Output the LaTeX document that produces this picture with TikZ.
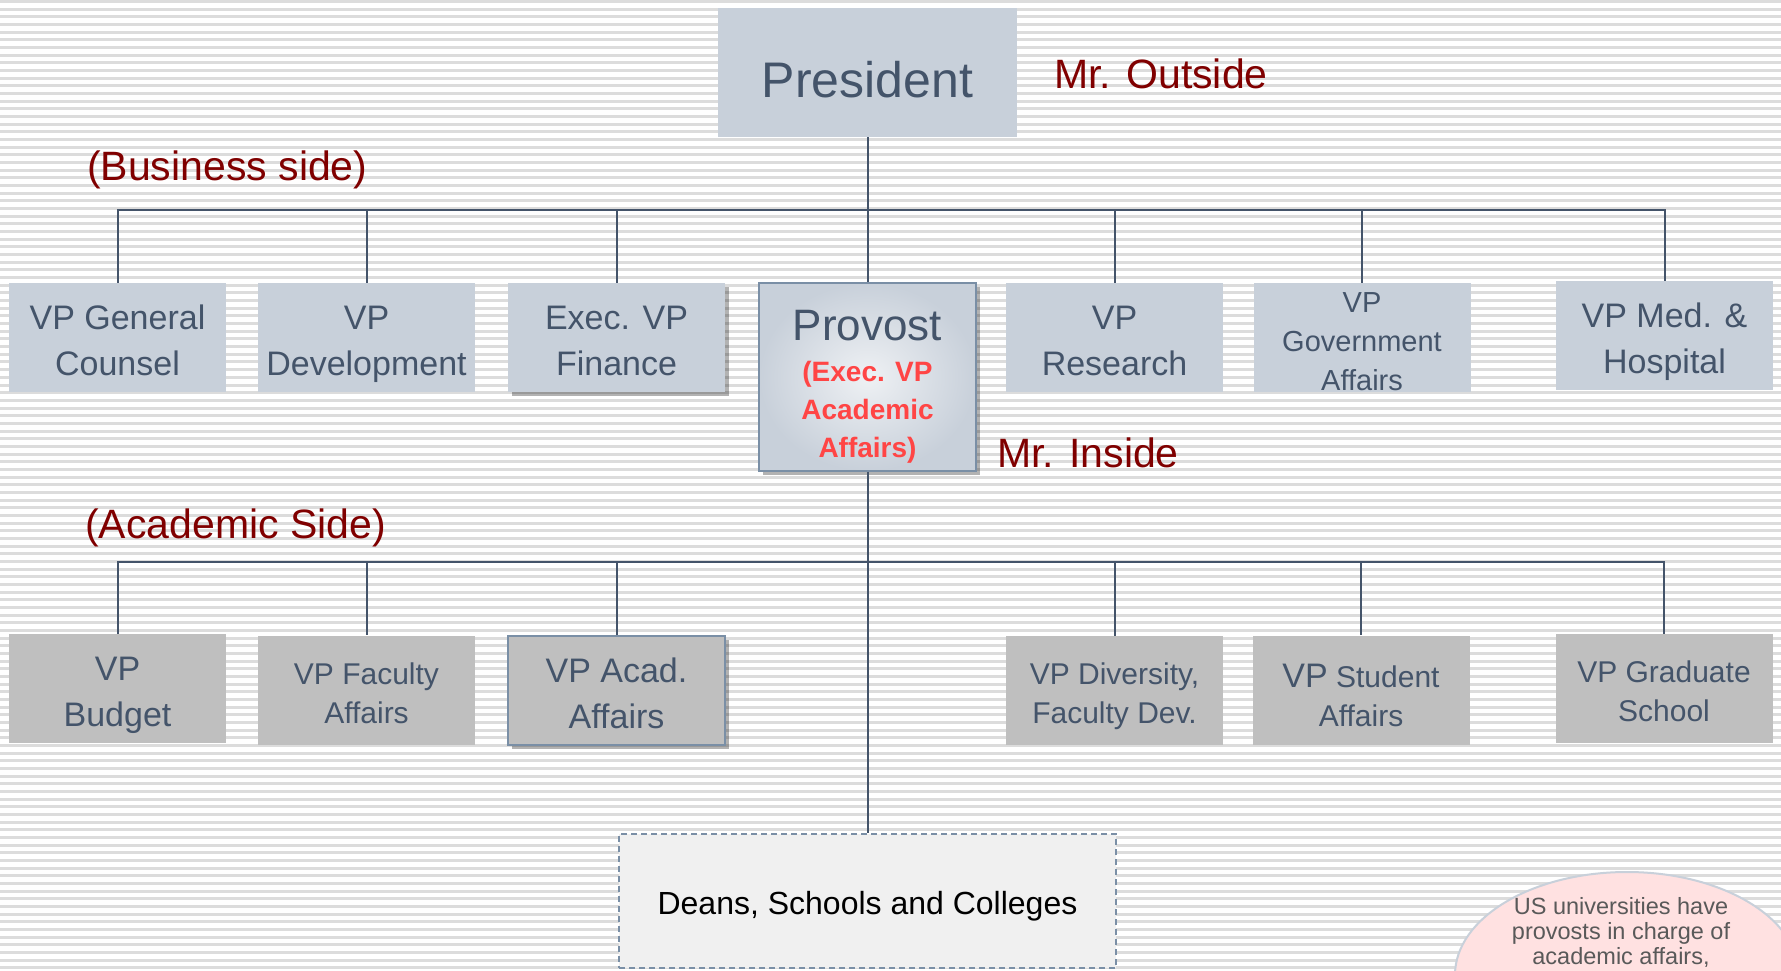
\documentclass[tikz,border=0pt]{standalone}
\usepackage{fontspec}
\setmainfont{Liberation Sans}
\usepackage{xcolor}
\usetikzlibrary{shapes.geometric,shadows}
\definecolor{boxtext}{HTML}{44546A}
\definecolor{topfill}{HTML}{C8D0DA}
\definecolor{lowfill}{HTML}{BFBFBF}
\definecolor{edgeblue}{HTML}{7A8FA6}
\definecolor{sidered}{HTML}{800000}
\definecolor{provred}{HTML}{FF4545}
\definecolor{stripe}{HTML}{DCDCDC}
\definecolor{notefill}{HTML}{FFE1E1}
\definecolor{notetext}{HTML}{595959}
\newcommand\fs[2]{\fontsize{#1}{#2}\selectfont}

\tikzset{
  unit/.style={fill=topfill, text=boxtext, align=center, inner sep=0pt,
    minimum width=217pt, minimum height=109pt, font=\fs{34}{46},
    text height=76pt, text depth=0pt},
  lowunit/.style={unit, fill=lowfill},
  smalltxt/.style={font=\fs{30}{39}, text height=66pt},
  lifted/.style={drop shadow={shadow xshift=4pt, shadow yshift=-4pt,
    fill=black, opacity=0.3}},
  framed/.style={draw=edgeblue, line width=1.5pt},
  conn/.style={draw=boxtext, line width=2pt},
  side/.style={text=sidered, font=\fs{41}{48}, anchor=base west, inner sep=0pt},
}

\begin{document}
\begin{tikzpicture}[x=1pt,y=-1pt]
        \useasboundingbox (0,0) rectangle (1781,970);
        \clip (0,0) rectangle (1781,970);
        \fill[white] (0,0) rectangle (1781,970);
        \foreach \i in {0,...,126}
          \fill[stripe] (0,{\i*7.67}) rectangle (1781,{\i*7.67+3});

        \coordinate (P) at (867.5, 72.5);
        \coordinate (Tbus) at (867.5, 210);
        \coordinate (Lbus) at (867.5, 562);

        \coordinate (GC) at (117.5, 337.5);
        \coordinate (D) at (366.5, 337.5);
        \coordinate (F) at (616.5, 337.5);
        \coordinate (V) at (867.5, 377);
        \coordinate (R) at (1114.5, 337.5);
        \coordinate (G) at (1362, 337.5);
        \coordinate (M) at (1664.5, 335.5);

        \coordinate (B) at (117.5, 688.5);
        \coordinate (FA) at (366.5, 690);
        \coordinate (A) at (616.5, 690.5);
        \coordinate (DF) at (1114.5, 690.5);
        \coordinate (S) at (1361, 690);
        \coordinate (GS) at (1664, 688.5);

        \coordinate (DSC) at (867.5, 901);

        \node[unit, minimum width=299pt, minimum height=129pt, font=\fs{50}{60},
          text height=49pt] (Pres) at (P) {President};

        \node[unit] (GenC) at (GC) {VP General\\Counsel};
        \node[unit] (Dev) at (D) {VP\\Development};
        \node[unit, lifted] (Fin) at (F) {Exec. VP\\Finance};
        \node[unit, framed, lifted, minimum height=188pt, text height=0pt,
          shading=radial, inner color=white!70!topfill, outer color=topfill]
          (Prov) at (V) {};
        \node[align=center, inner sep=0pt, text=provred, font=\fs{28}{38}\bfseries]
          (ProvT) at (867.5, 387) {{\fs{44}{50}\mdseries\color{boxtext}Provost}\\[2.5pt]
          (Exec. VP\\Academic\\Affairs)};
        \node[unit] (Res) at (R) {VP\\Research};
        \node[unit, font=\fs{29}{39}, text height=106pt] (Gov) at (G) {VP\\Government\\Affairs};
        \node[unit] (Med) at (M) {VP Med. \&\\Hospital};

        \node[lowunit] (Bud) at (B) {VP\\Budget};
        \node[lowunit, smalltxt] (Fac) at (FA) {VP Faculty\\Affairs};
        \node[lowunit, framed, lifted] (Acad) at (A) {VP Acad.\\Affairs};
        \node[lowunit, smalltxt] (Div) at (DF) {VP Diversity,\\Faculty Dev.};
        \node[lowunit, smalltxt, text height=72pt] (Stu) at (S) {{\fs{34}{44}VP} Student\\Affairs};
        \node[lowunit, smalltxt] (Grad) at (GS) {VP Graduate\\School};

        \node[draw=edgeblue, line width=1.5pt, dash pattern=on 6pt off 4pt,
          fill=black!6, minimum width=497pt, minimum height=134pt,
          font=\fs{32}{38}, text height=33pt, text depth=6pt] (Deans) at (DSC)
          {Deans, Schools and Colleges};

        \draw[conn] (Pres) -- (Prov);
        \foreach \n in {GenC,Dev,Fin,Res,Gov,Med}
          \draw[conn] (Tbus) -| (\n.north);
        \draw[conn] (Prov) -- (Deans);
        \foreach \n in {Bud,Fac,Acad,Div,Stu,Grad}
          \draw[conn] (Lbus) -| (\n.north);

        \node[side] (Outside) at (1054, 88) {Mr. Outside};
        \node[side] (Inside) at (997, 467) {Mr. Inside};
        \node[side] (Business) at (87, 180) {(Business side)};
        \node[side] (Academic) at (85, 538) {(Academic Side)};

        \node[ellipse, draw=topfill, line width=2pt, fill=notefill,
          minimum width=344pt, minimum height=206pt] (NoteBg) at (1627, 975) {};
        \node[align=center, inner sep=0pt, text=notetext, font=\fs{23.5}{25}]
          (Note) at (1621, 932) {US universities have\\provosts in charge of\\academic affairs,};
\end{tikzpicture}
\end{document}
